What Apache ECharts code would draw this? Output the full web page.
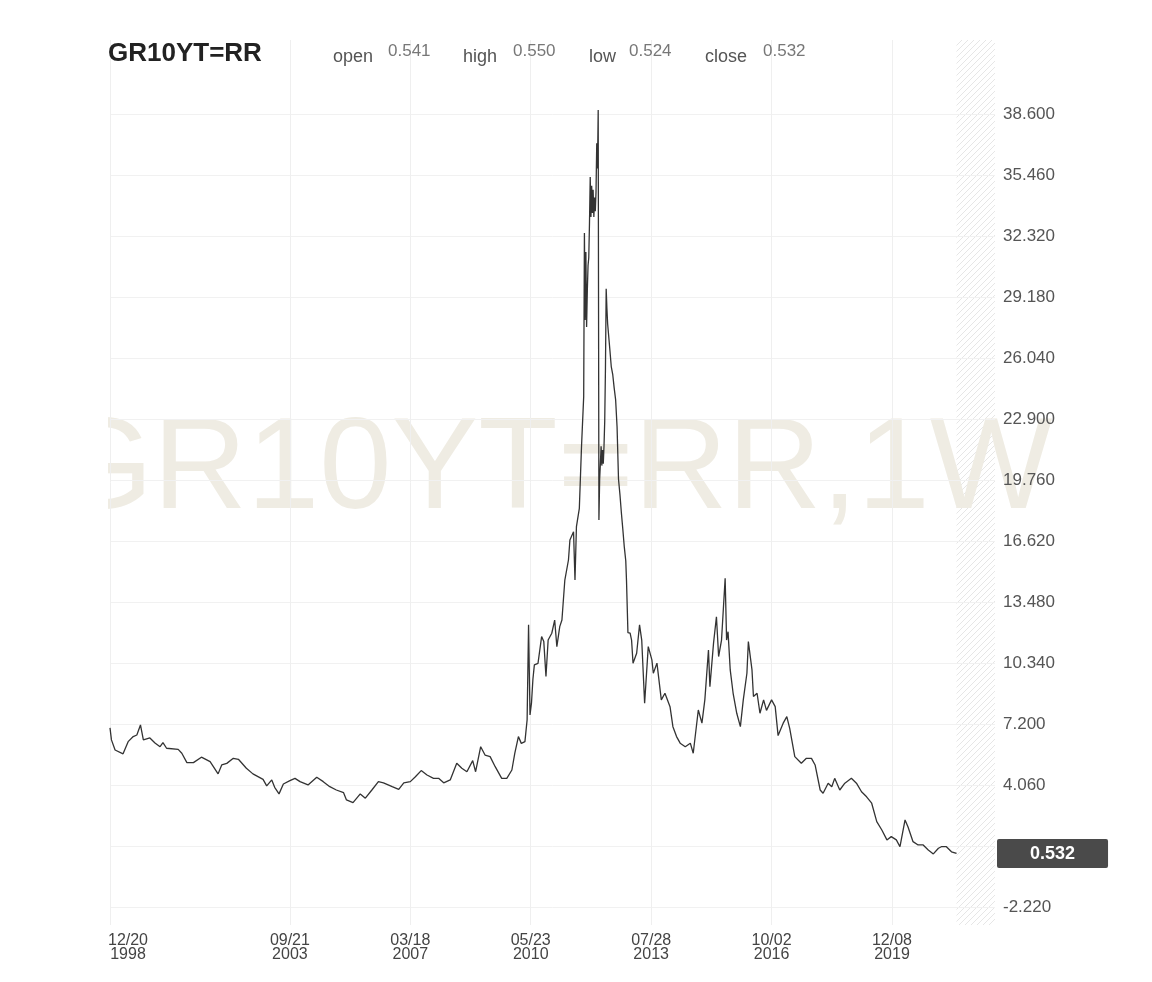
<!DOCTYPE html>
<html>
<head>
<meta charset="utf-8">
<script src="https://cdn.jsdelivr.net/npm/echarts@6/dist/echarts.min.js"></script>
<style>
html,body{margin:0;padding:0;background:#ffffff;}
#chart{width:1152px;height:982px;}
</style>
</head>
<body>
<div id="chart"></div>
<script>
// ---------------- data ----------------
const symbol = 'GR10YT=RR';
const watermarkText = 'GR10YT=RR,1W';
const ohlcNames = ['open', 'high', 'low', 'close'];
const ohlcValues = [0.541, 0.550, 0.524, 0.532];

// weekly bars start; a run of weeks is missing from the feed
const firstWeek = '1998-12-20';
const missingFrom = '2005-06-05';
const missingWeeks = 16;
const futureWeeks = 53;

const tickDates = ['1998-12-20', '2003-09-21', '2007-03-18', '2010-05-23', '2013-07-28', '2016-10-02', '2019-12-08'];
const yTickValues = [-2.22, 0.92, 4.06, 7.2, 10.34, 13.48, 16.62, 19.76, 22.9, 26.04, 29.18, 32.32, 35.46, 38.6];

const dates = [
'1998-12-20','1999-01-03','1999-02-07','1999-04-25','1999-06-13','1999-08-01','1999-09-05','1999-10-10','1999-11-07',
'2000-01-09','2000-02-27','2000-04-16','2000-05-14','2000-06-18','2000-10-08','2000-11-12','2000-12-31',
'2001-03-04','2001-05-20','2001-08-12','2001-10-28','2001-12-02',
'2002-01-20','2002-03-24','2002-05-12','2002-07-28','2002-09-29',
'2003-01-05','2003-02-09','2003-03-30','2003-04-27','2003-06-08','2003-07-20','2003-09-21','2003-11-09','2003-12-28',
'2004-03-14','2004-06-06','2004-08-08','2004-10-10','2004-12-12',
'2005-02-20','2005-03-20','2005-05-22','2005-11-20',
'2006-01-08','2006-03-12','2006-05-14','2006-07-02','2006-09-24','2006-11-26',
'2007-01-14','2007-03-18','2007-05-06','2007-07-01','2007-08-26','2007-10-28','2007-12-16',
'2008-02-03','2008-04-06','2008-06-08','2008-07-27','2008-09-14','2008-11-09','2008-12-07',
'2009-01-25','2009-03-08','2009-04-26','2009-06-14','2009-08-16','2009-10-04','2009-11-22','2009-12-20',
'2010-01-24','2010-02-21','2010-03-28','2010-04-18','2010-05-02','2010-05-16','2010-05-30','2010-06-13','2010-06-27',
'2010-08-01','2010-09-05','2010-09-26','2010-10-17','2010-11-07','2010-12-12',
'2011-01-09','2011-01-30','2011-02-27','2011-03-20','2011-04-17','2011-05-22','2011-06-05','2011-07-10','2011-07-24',
'2011-08-07','2011-09-04','2011-09-25','2011-10-16','2011-10-23','2011-10-30','2011-11-06','2011-11-13','2011-11-20',
'2011-11-27','2011-12-04','2011-12-11','2011-12-18','2011-12-25',
'2012-01-01','2012-01-08','2012-01-15','2012-01-22','2012-01-29','2012-02-05','2012-02-12','2012-02-19','2012-02-26',
'2012-03-04','2012-03-11','2012-03-18','2012-03-25','2012-04-01','2012-04-08','2012-04-15','2012-04-22','2012-04-29',
'2012-05-06','2012-05-13','2012-05-20','2012-05-27','2012-06-03','2012-06-24','2012-07-08','2012-07-22','2012-08-05',
'2012-08-19','2012-09-02','2012-09-16','2012-09-30','2012-10-14','2012-10-28','2012-11-11','2012-11-25','2012-12-02','2012-12-16',
'2013-01-06','2013-01-20','2013-02-03','2013-03-10','2013-04-07','2013-04-28','2013-05-26','2013-06-30','2013-08-04',
'2013-08-18','2013-09-22','2013-11-03','2013-12-08',
'2014-01-26','2014-02-23','2014-03-30','2014-05-04','2014-06-22','2014-08-10','2014-09-07','2014-10-26','2014-11-30','2014-12-28',
'2015-02-01','2015-02-15','2015-03-22','2015-04-19','2015-05-10','2015-06-07','2015-07-12','2015-07-26','2015-08-09',
'2015-08-30','2015-09-27','2015-11-01','2015-12-06',
'2016-01-03','2016-02-07','2016-02-21','2016-03-27','2016-04-10','2016-05-15','2016-06-12','2016-07-17','2016-08-14',
'2016-10-02','2016-11-06','2016-12-04',
'2017-01-08','2017-01-22','2017-02-26','2017-03-26','2017-05-14','2017-07-16','2017-09-03','2017-10-22','2017-11-26',
'2018-01-14','2018-02-11','2018-04-01','2018-05-06','2018-06-03','2018-07-22','2018-09-09','2018-11-11','2018-12-30',
'2019-02-17','2019-04-07','2019-05-26','2019-07-14','2019-09-01','2019-10-20','2019-12-01',
'2020-01-19','2020-02-23','2020-04-12','2020-05-10','2020-06-28','2020-08-16','2020-10-04','2020-11-22',
'2021-01-10','2021-02-28','2021-03-28','2021-05-16','2021-07-04','2021-08-22'
];
const yields = [
7.00,6.38,5.86,5.66,6.29,6.55,6.63,7.15,6.38,
6.48,6.22,6.03,6.24,5.95,5.89,5.69,5.21,
5.21,5.49,5.26,4.63,5.09,
5.17,5.43,5.38,4.92,4.63,
4.35,4.01,4.32,3.94,3.60,4.11,4.28,4.40,4.23,
4.06,4.46,4.23,3.97,3.80,
3.66,3.29,3.15,3.60,
3.38,3.80,4.23,4.17,3.97,3.83,
4.17,4.23,4.48,4.80,4.57,4.40,4.40,
4.17,4.32,5.18,4.92,4.74,5.31,4.74,
6.03,5.60,5.52,5.00,4.40,4.40,4.83,5.69,
6.55,6.20,6.29,7.41,12.30,7.66,8.27,9.50,10.24,
10.32,11.70,11.44,9.64,11.52,11.87,
12.55,11.18,12.21,12.55,14.61,15.64,16.67,17.10,14.61,
17.36,18.30,21.48,24.05,32.48,28.00,31.50,27.64,29.50,
30.80,31.20,33.00,35.36,33.30,
34.90,33.50,34.70,33.30,34.30,33.60,34.60,37.10,35.80,
38.80,17.70,19.80,20.60,21.50,20.50,21.30,20.60,21.50,
22.80,25.50,29.60,28.60,27.80,26.50,25.60,25.20,24.50,
23.90,22.50,19.80,19.00,18.05,17.20,16.30,15.60,14.60,11.90,
11.87,11.52,10.33,10.84,12.30,11.52,8.27,11.18,10.50,
9.81,10.33,8.44,8.78,
8.09,7.06,6.55,6.21,6.03,6.21,5.69,7.92,7.24,8.44,
11.01,9.12,11.36,12.72,10.67,11.52,14.70,11.52,11.95,
9.98,8.78,7.75,7.06,
8.44,9.81,11.44,9.98,8.61,8.78,7.75,8.44,7.90,
8.44,8.09,6.60,
7.06,7.24,7.58,6.97,5.52,5.18,5.43,5.43,5.09,
3.80,3.63,4.15,3.97,4.40,3.80,4.15,4.40,4.15,
3.71,3.45,3.12,2.17,1.74,1.23,1.40,
1.23,0.88,2.26,1.91,1.14,0.97,0.97,0.71,
0.51,0.80,0.88,0.88,0.62,0.532
];

// ---------------- build ----------------
const DAY = 864e5, WEEK = 7 * DAY;
const startT = Date.parse(firstWeek);
const gapStartT = Date.parse(missingFrom);
const gapEndT = gapStartT + missingWeeks * WEEK;
function barIndex(ds) {
  const t = Date.parse(ds);
  if (t >= gapEndT) return Math.round((t - startT) / WEEK) - missingWeeks;
  if (t >= gapStartT) return Math.round((gapStartT - startT) / WEEK);
  return Math.round((t - startT) / WEEK);
}
const lastBar = barIndex(dates[dates.length - 1]);
const categories = [];
for (let t = startT; categories.length <= lastBar + futureWeeks; t += WEEK) {
  if (t >= gapStartT && t < gapEndT) continue;
  categories.push(new Date(t).toISOString().slice(0, 10));
}
const seriesData = dates.map((d, i) => [barIndex(d), yields[i]]);
const closeValue = ohlcValues[3];

// hatch pattern for the empty future area
const hatch = document.createElement('canvas');
hatch.width = 6; hatch.height = 6;
(function () {
  const c = hatch.getContext('2d');
  c.fillStyle = '#ffffff'; c.fillRect(0, 0, 6, 6);
  c.strokeStyle = '#e6e6e6'; c.lineWidth = 1;
  c.beginPath();
  c.moveTo(-1, 7); c.lineTo(7, -1);
  c.moveTo(-1, 1); c.lineTo(1, -1);
  c.moveTo(5, 7); c.lineTo(7, 5);
  c.stroke();
})();

const FONT = '"Liberation Sans", Arial, Helvetica, sans-serif';

const labelX = [333, 463, 589, 705];
const valueX = [388, 513, 629, 763];
const titles = [{
  text: symbol, left: 108, top: 41, padding: 0, z: 20,
  textStyle: { fontFamily: FONT, fontSize: 26, fontWeight: 'bold', color: '#222222' }
}];
ohlcNames.forEach((n, i) => {
  titles.push({ text: n, left: labelX[i], top: 48, padding: 0, z: 20,
    textStyle: { fontFamily: FONT, fontSize: 18, fontWeight: 'normal', color: '#555555' } });
  titles.push({ text: ohlcValues[i].toFixed(3), left: valueX[i], top: 43, padding: 0, z: 20,
    textStyle: { fontFamily: FONT, fontSize: 17, fontWeight: 'normal', color: '#777777' } });
});

const chart = echarts.init(document.getElementById('chart'), null, { renderer: 'canvas' });
chart.setOption({
  animation: false,
  backgroundColor: '#ffffff',
  title: titles,
  graphic: [
    { type: 'text', z: 0.5, x: 52, y: 472, silent: true,
      style: { text: watermarkText, font: '130px ' + FONT, fill: '#efece3', align: 'left', verticalAlign: 'middle' } },
    { type: 'rect', z: 0.6, shape: { x: 0, y: 0, width: 108, height: 982 }, silent: true,
      style: { fill: '#ffffff' } }
  ],
  grid: { left: 110, right: 157, top: 40, bottom: 57, containLabel: false },
  xAxis: {
    type: 'category',
    data: categories,
    boundaryGap: false,
    z: 1,
    axisLine: { show: false },
    axisTick: { show: false },
    axisLabel: {
      interval: (idx, val) => tickDates.indexOf(val) >= 0,
      margin: 9,
      fontFamily: FONT, fontSize: 16, lineHeight: 14, color: '#444444',
      formatter: (val) => {
        const p = val.split('-');
        if (val === tickDates[0]) return '{f|' + p[1] + '/' + p[2] + '}\n{f|' + p[0] + '}';
        return p[1] + '/' + p[2] + '\n' + p[0];
      },
      rich: { f: { fontFamily: FONT, fontSize: 16, lineHeight: 14, color: '#444444', padding: [0, 0, 0, 36] } }
    },
    splitLine: {
      show: true,
      interval: (idx, val) => tickDates.indexOf(val) >= 0,
      lineStyle: { color: '#efefef', width: 1 }
    }
  },
  yAxis: {
    type: 'value',
    position: 'right',
    min: -3.15,
    max: 42.41,
    z: 1,
    axisLine: { show: false },
    axisTick: { show: false, customValues: yTickValues },
    axisLabel: {
      customValues: yTickValues,
      margin: 8,
      fontFamily: FONT, fontSize: 17, color: '#555555',
      formatter: (v) => v.toFixed(3)
    },
    splitLine: { show: true, lineStyle: { color: '#f1f1f1', width: 1 } },
    axisPointer: {
      show: true,
      status: 'show',
      value: closeValue,
      snap: false,
      triggerTooltip: false,
      lineStyle: { opacity: 0 },
      label: {
        show: true,
        formatter: () => closeValue.toFixed(3),
        backgroundColor: '#4a4a4a',
        color: '#ffffff',
        fontFamily: FONT, fontSize: 18, fontWeight: 'bold',
        padding: [6, 33, 5, 33],
        borderRadius: 2,
        margin: 2
      }
    }
  },
  series: [{
    name: 'future',
    type: 'line',
    data: seriesData,
    showSymbol: false,
    symbol: 'none',
    z: 0,
    silent: true,
    lineStyle: { opacity: 0 },
    markArea: {
      silent: true,
      z: 0.1,
      itemStyle: { color: { image: hatch, repeat: 'repeat' } },
      data: [[{ xAxis: lastBar }, { xAxis: categories.length - 1 }]]
    }
  }, {
    name: symbol,
    type: 'line',
    data: seriesData,
    showSymbol: false,
    symbol: 'none',
    z: 5,
    lineStyle: { color: '#333333', width: 1.3 }
  }]
});
</script>
</body>
</html>
